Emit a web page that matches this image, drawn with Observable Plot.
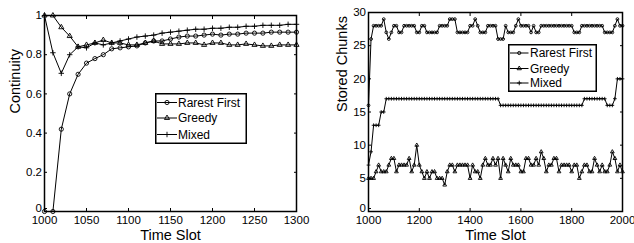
<!DOCTYPE html>
<html><head><meta charset="utf-8">
<script src="https://cdn.jsdelivr.net/npm/d3@7"></script>
<script src="https://cdn.jsdelivr.net/npm/@observablehq/plot@0.6"></script>
<style>
body{margin:0;background:#fff;}
#wrap{position:relative;width:634px;height:243px;overflow:hidden;font-family:"Liberation Sans",Arial,sans-serif;background:#fff;}
#wrap svg{position:absolute;overflow:visible;}
</style></head><body><div id="wrap"></div>
<script>
// ---------- Left panel: Continuity ----------
const timeL = [1000,1010,1020,1030,1040,1050,1060,1070,1080,1090,1100,1110,1120,1130,1140,1150,1160,1170,1180,1190,1200,1210,1220,1230,1240,1250,1260,1270,1280,1290,1300];
const rarestL = [0,0,0.42,0.60,0.70,0.757,0.78,0.80,0.83,0.835,0.84,0.845,0.86,0.87,0.87,0.88,0.89,0.895,0.895,0.90,0.905,0.90,0.905,0.905,0.91,0.91,0.91,0.915,0.915,0.915,0.915];
const greedyL = [1.0,1.0,0.94,0.895,0.84,0.85,0.86,0.875,0.86,0.86,0.85,0.85,0.86,0.87,0.855,0.855,0.855,0.86,0.86,0.85,0.86,0.86,0.85,0.85,0.855,0.85,0.845,0.845,0.85,0.85,0.85];
const mixedL = [1.0,0.81,0.705,0.80,0.84,0.835,0.86,0.85,0.86,0.87,0.88,0.89,0.895,0.90,0.91,0.915,0.92,0.925,0.93,0.93,0.935,0.935,0.94,0.94,0.945,0.945,0.95,0.95,0.95,0.955,0.955];
const xTicksL = [1000,1050,1100,1150,1200,1250,1300];
const yTicksL = [0,0.2,0.4,0.6,0.8,1];

// ---------- Right panel: Stored Chunks ----------
const timeR = [1000,1010,1020,1030,1040,1050,1060,1070,1080,1090,
1100,1110,1120,1130,1140,1150,1160,1170,1180,1190,
1200,1210,1220,1230,1240,1250,1260,1270,1280,1290,
1300,1310,1320,1330,1340,1350,1360,1370,1380,1390,
1400,1410,1420,1430,1440,1450,1460,1470,1480,1490,
1500,1510,1520,1530,1540,1550,1560,1570,1580,1590,
1600,1610,1620,1630,1640,1650,1660,1670,1680,1690,
1700,1710,1720,1730,1740,1750,1760,1770,1780,1790,
1800,1810,1820,1830,1840,1850,1860,1870,1880,1890,
1900,1910,1920,1930,1940,1950,1960,1970,1980,1990,2000];
const rarestR = [16,26,28,28,28,28,29,27,26,27,
28,28,27,27,28,28,28,28,28,27,
27,28,28,27,27,27,27,27,28,28,
28,28,29,29,29,27,27,27,27,27,
28,28,29,28,27,27,27,28,28,28,
28,26,26,26,28,27,27,27,28,29,
28,28,28,28,27,28,27,27,28,28,
28,28,28,28,28,28,28,28,28,28,
28,27,27,27,28,28,28,28,28,28,
28,28,28,27,27,27,27,28,29,28,28];
const greedyR = [5,5,5,6,7,6,6,6,7,8,
8,6,7,7,7,7,8,6,7,10,
7,6,5,6,5,6,6,5,5,5,
4,6,7,7,6,7,7,7,7,7,
5,7,6,6,5,7,8,7,7,8,
7,8,5,8,7,6,8,7,7,7,
6,6,8,8,7,7,8,7,9,8,
6,7,7,8,8,6,7,7,7,7,
6,7,7,5,6,7,7,6,6,8,
7,6,7,6,6,7,9,8,6,7,6];
const mixedR = [7,9,13,13,13,15,15,17,17,17,
17,17,17,17,17,17,17,17,17,17,
17,17,17,17,17,17,17,17,17,17,
17,17,17,17,17,17,17,17,17,17,
17,17,17,17,17,17,17,17,17,17,
17,17,16,16,16,16,16,16,16,16,
16,16,16,16,16,16,16,16,16,16,
16,16,16,16,16,16,16,16,16,16,
16,16,16,16,16,17,17,17,17,17,
17,17,17,17,16,16,16,17,20,20,20];
const xTicksR = [1000,1200,1400,1600,1800,2000];
const yTicksR = [0,5,10,15,20,25,30];

const seriesNames = ["Rarest First","Greedy","Mixed"];
const symbols = ["circle","triangle","plus"];

function toRows(t, vals){ return t.map((d,i)=>({t:d, v:vals[i]})); }

function panel(o){
  const marks = [];
  o.series.forEach((vals, k) => {
    const rows = toRows(o.t, vals);
    marks.push(Plot.line(rows, {x:"t", y:"v", stroke:"black", strokeWidth:1}));
    marks.push(Plot.dot(rows, {x:"t", y:"v", symbol: symbols[k], r: o.r[k], stroke:"black", fill:"none", strokeWidth:0.9}));
  });
  const fmtX = d => String(d);
  const yLow = o.yTicks.slice(0,1), yRest = o.yTicks.slice(1);
  marks.push(
    Plot.frame({stroke:"black", strokeWidth:1.5}),
    Plot.axisX(o.xTicks, {anchor:"bottom", tickSize:-3, tickPadding:7.5, tickFormat: fmtX, label:null, fontSize:11.5}),
    Plot.axisX(o.xTicks, {anchor:"top", tickSize:-3, fill:"none", label:null}),
    Plot.axisY(yRest, {anchor:"left", tickSize:-3, tickPadding:5.5, tickFormat: o.yFmt, label:null, fontSize:11.5}),
    Plot.axisY(yLow, {anchor:"left", tickSize:-3, tickPadding:5.5, tickFormat: o.yFmt, label:null, fontSize:11.5, dy:-3}),
    Plot.axisY(o.yTicks, {anchor:"right", tickSize:-3, fill:"none", label:null}),
    Plot.text([o.ylabel], {text: d=>d, frameAnchor:"left", dx:o.ylabelDx, rotate:-90, fontSize:14.5, fill:"black"}),
    Plot.text(["Time Slot"], {text: d=>d, frameAnchor:"bottom", dy:23.6, lineAnchor:"middle", fontSize:14.5, fill:"black"})
  );
  const svg = Plot.plot({
    width:o.width, height:243,
    marginLeft:o.ml, marginRight:o.mr, marginTop:o.mt, marginBottom:32,
    x:{domain:o.xDomain},
    y:{domain:o.yDomain},
    style:{fontFamily:'"Liberation Sans", Arial, sans-serif', fontSize:"11.5px", color:"black", background:"transparent", overflow:"visible"},
    marks
  });
  svg.style.left = o.left + "px";
  svg.style.top = "0px";
  return svg;
}

const wrap = document.getElementById("wrap");
wrap.appendChild(panel({
  left:0, width:317, ml:44, mr:21, mt:15,
  t:timeL, series:[rarestL, greedyL, mixedL], r:[2.1,1.9,1.9],
  xDomain:[1000,1300], yDomain:[0,1], xTicks:xTicksL, yTicks:yTicksL,
  yFmt: d => String(d), ylabel:"Continuity", ylabelDx:-29
}));
wrap.appendChild(panel({
  left:317, width:317, ml:51, mr:12, mt:12,
  t:timeR, series:[rarestR, greedyR, mixedR], r:[1.4,1.4,1.3],
  xDomain:[1000,2000], yDomain:[0,30], xTicks:xTicksR, yTicks:yTicksR,
  yFmt: d => String(d), ylabel:"Stored Chunks", ylabelDx:-26
}));

// ---------- Legends ----------
function legend(left, top, w, h, rowY, x0, x1, tx, rr){
  const svg = d3.create("svg").attr("width", w).attr("height", h)
    .style("left", left+"px").style("top", top+"px");
  svg.append("rect").attr("x",0.75).attr("y",0.75).attr("width",w-1.5).attr("height",h-1.5)
    .attr("fill","white").attr("stroke","black").attr("stroke-width",1.5);
  const types = [d3.symbolCircle, d3.symbolTriangle, d3.symbolPlus || d3.symbolCross];
  seriesNames.forEach((name,i)=>{
    const y = rowY[i];
    svg.append("line").attr("x1",x0).attr("x2",x1).attr("y1",y).attr("y2",y).attr("stroke","black").attr("stroke-width",1);
    svg.append("path").attr("d", d3.symbol(types[i], Math.PI*rr[i]*rr[i])())
      .attr("transform",`translate(${(x0+x1)/2},${y})`).attr("fill","none").attr("stroke","black").attr("stroke-width",0.9);
    svg.append("text").attr("x",tx).attr("y",y).attr("dy","0.35em").attr("font-size","12px")
      .attr("font-family",'"Liberation Sans", Arial, sans-serif').text(name);
  });
  wrap.appendChild(svg.node());
}
legend(155, 93, 92, 51, [9.5,25,41.5], 2, 22, 23, [2.1,1.9,1.9]);
legend(508, 44, 89, 48, [9,24.5,39], 2, 20.5, 22, [1.6,1.6,1.6]);
</script></body></html>
